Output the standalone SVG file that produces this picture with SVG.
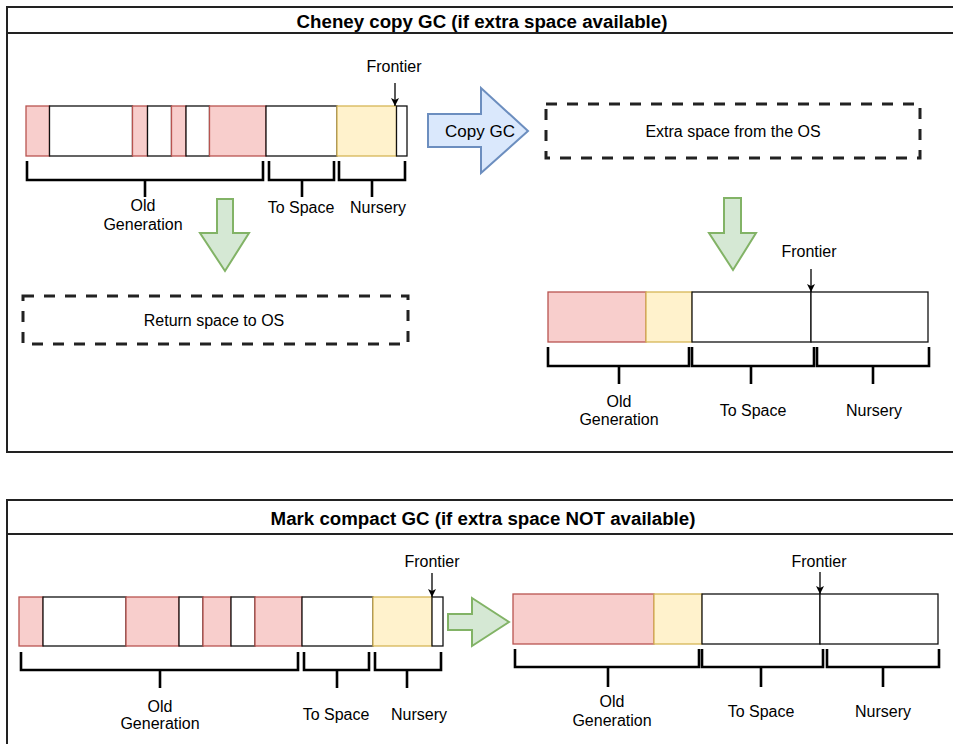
<svg xmlns="http://www.w3.org/2000/svg" width="953" height="744" viewBox="0 0 953 744">
  <style>
    text { font-family: "Liberation Sans", Arial, sans-serif; fill: #000; }
    .lbl { font-size: 16px; text-anchor: middle; }
    .title { font-size: 18.7px; font-weight: bold; text-anchor: middle; }
    .frame { fill: #fff; stroke: #222; stroke-width: 2; }
    .old { fill: #f8cecc; stroke: #b85450; stroke-width: 1.3; }
    .young { fill: #fff2cc; stroke: #d6b656; stroke-width: 1.3; }
    .cell { fill: #fff; stroke: #111; stroke-width: 1.3; }
    .brace { fill: none; stroke: #000; stroke-width: 2.6; }
    .dash { fill: none; stroke: #222; stroke-width: 3; stroke-dasharray: 11 10; }
    .green { fill: #d5e8d4; stroke: #82b366; stroke-width: 2; }
    .blue { fill: #dae8fc; stroke: #6c8ebf; stroke-width: 2; }
    .ptr { stroke: #000; stroke-width: 1.3; fill: none; }
  </style>
  <defs>
    <marker id="tip" viewBox="0 0 10 10" refX="10" refY="5" markerWidth="8" markerHeight="8" markerUnits="userSpaceOnUse" orient="auto">
      <path d="M0,0 L10,5 L0,10 L2.5,5 Z" fill="#000"/>
    </marker>
  </defs>

  <!-- ===== Panel 1: Cheney copy GC ===== -->
  <g id="panel-cheney">
    <rect class="frame" x="7" y="7" width="955" height="445"/>
    <line x1="7" y1="33" x2="962" y2="33" stroke="#222" stroke-width="2"/>
    <text class="title" x="482" y="28">Cheney copy GC (if extra space available)</text>
  </g>

  <!-- heap before collection -->
  <g id="heap-before-cheney">
    <rect class="old" x="26" y="106" width="23.5" height="50"/>
    <rect class="cell" x="49.5" y="106" width="83" height="50"/>
    <rect class="old" x="132.5" y="106" width="15" height="50"/>
    <rect class="cell" x="147.5" y="106" width="24" height="50"/>
    <rect class="old" x="171.5" y="106" width="14.5" height="50"/>
    <rect class="cell" x="186" y="106" width="23.5" height="50"/>
    <rect class="old" x="209.5" y="106" width="56.5" height="50"/>
    <rect class="cell" x="266" y="106" width="71" height="50"/>
    <rect class="young" x="337" y="106" width="59.5" height="50"/>
    <rect class="cell" x="396.5" y="106" width="10.5" height="50"/>
    <text class="lbl" x="394" y="72">Frontier</text>
    <path class="brace" d="M27,161 V180 H263 V161 M145,180 V197"/>
    <path class="brace" d="M269,161 V180 H334 V161 M302,180 V197"/>
    <path class="brace" d="M339,161 V180 H405 V161 M372,180 V197"/>
    <text class="lbl" x="143" y="211">Old</text>
    <text class="lbl" x="143" y="230">Generation</text>
    <text class="lbl" x="301" y="213">To Space</text>
    <text class="lbl" x="378" y="213">Nursery</text>
  </g>

  <g id="copy-gc-arrow">
    <path class="blue" d="M428,114 H481 V88 L528,131 L481,173 V147 H428 Z"/>
    <text x="480" y="137" style="font-size:17px; text-anchor:middle">Copy GC</text>
  </g>

  <g id="extra-space">
    <rect class="dash" x="546" y="104" width="374" height="54"/>
    <text class="lbl" x="733" y="137">Extra space from the OS</text>
  </g>

  <g id="return-space">
    <rect class="dash" x="23" y="296" width="385" height="48"/>
    <text class="lbl" x="214" y="326">Return space to OS</text>
  </g>

  <!-- heap after copying -->
  <g id="heap-after-cheney">
    <rect class="old" x="548" y="292" width="98" height="50"/>
    <rect class="young" x="646" y="292" width="46" height="50"/>
    <rect class="cell" x="692" y="292" width="119" height="50"/>
    <rect class="cell" x="811" y="292" width="117" height="50"/>
    <text class="lbl" x="809" y="257">Frontier</text>
    <path class="brace" d="M548,347 V366 H689 V347 M619,366 V384"/>
    <path class="brace" d="M692,347 V366 H814 V347 M751,366 V384"/>
    <path class="brace" d="M817,347 V366 H929 V347 M873,366 V384"/>
    <text class="lbl" x="619" y="407">Old</text>
    <text class="lbl" x="619" y="425">Generation</text>
    <text class="lbl" x="753" y="416">To Space</text>
    <text class="lbl" x="874" y="416">Nursery</text>
  </g>

  <!-- ===== Panel 2: Mark compact GC ===== -->
  <g id="panel-compact">
    <rect class="frame" x="7" y="500" width="955" height="260"/>
    <line x1="7" y1="534" x2="962" y2="534" stroke="#222" stroke-width="2"/>
    <text class="title" x="483" y="525">Mark compact GC (if extra space NOT available)</text>
  </g>

  <g id="heap-before-compact">
    <rect class="old" x="19" y="597" width="24" height="49"/>
    <rect class="cell" x="43" y="597" width="83" height="49"/>
    <rect class="old" x="126" y="597" width="53" height="49"/>
    <rect class="cell" x="179" y="597" width="24" height="49"/>
    <rect class="old" x="203" y="597" width="28" height="49"/>
    <rect class="cell" x="231" y="597" width="24" height="49"/>
    <rect class="old" x="255" y="597" width="47" height="49"/>
    <rect class="cell" x="302" y="597" width="71" height="49"/>
    <rect class="young" x="373" y="597" width="59" height="49"/>
    <rect class="cell" x="432" y="597" width="11" height="49"/>
    <text class="lbl" x="432" y="567">Frontier</text>
    <path class="brace" d="M21,652 V670 H298 V652 M160,670 V688"/>
    <path class="brace" d="M304,652 V670 H369 V652 M337,670 V688"/>
    <path class="brace" d="M375,652 V670 H441 V652 M407,670 V688"/>
    <text class="lbl" x="160" y="712">Old</text>
    <text class="lbl" x="160" y="729">Generation</text>
    <text class="lbl" x="336" y="720">To Space</text>
    <text class="lbl" x="419" y="720">Nursery</text>
  </g>

  <g id="compact-arrow">
    <path class="green" d="M448,614 H472 V598 L509,622 L472,646 V630 H448 Z"/>
  </g>

  <g id="heap-after-compact">
    <rect class="old" x="513" y="594" width="141" height="50"/>
    <rect class="young" x="654" y="594" width="48" height="50"/>
    <rect class="cell" x="702" y="594" width="118" height="50"/>
    <rect class="cell" x="820" y="594" width="118" height="50"/>
    <text class="lbl" x="819" y="567">Frontier</text>
    <path class="brace" d="M515,649 V667 H699 V649 M608,667 V687"/>
    <path class="brace" d="M702,649 V667 H823 V649 M761,667 V687"/>
    <path class="brace" d="M827,649 V667 H939 V649 M883,667 V687"/>
    <text class="lbl" x="612" y="707">Old</text>
    <text class="lbl" x="612" y="726">Generation</text>
    <text class="lbl" x="761" y="717">To Space</text>
    <text class="lbl" x="883" y="717">Nursery</text>
  </g>

  <!-- down arrows between stages -->
  <g id="release-arrow">
    <path class="green" d="M217,199 H233 V233 H249 L225,271 L200,233 H217 Z"/>
  </g>
  <g id="grow-arrow">
    <path class="green" d="M724,198 H741 V233 H756 L733,270 L709,233 H724 Z"/>
  </g>

  <!-- frontier pointers -->
  <g id="connectors">
    <line class="ptr" x1="395" y1="83" x2="395" y2="106" marker-end="url(#tip)"/>
    <line class="ptr" x1="811" y1="269" x2="811" y2="292" marker-end="url(#tip)"/>
    <line class="ptr" x1="432" y1="573" x2="432" y2="597" marker-end="url(#tip)"/>
    <line class="ptr" x1="820" y1="572" x2="820" y2="594" marker-end="url(#tip)"/>
  </g>
</svg>
